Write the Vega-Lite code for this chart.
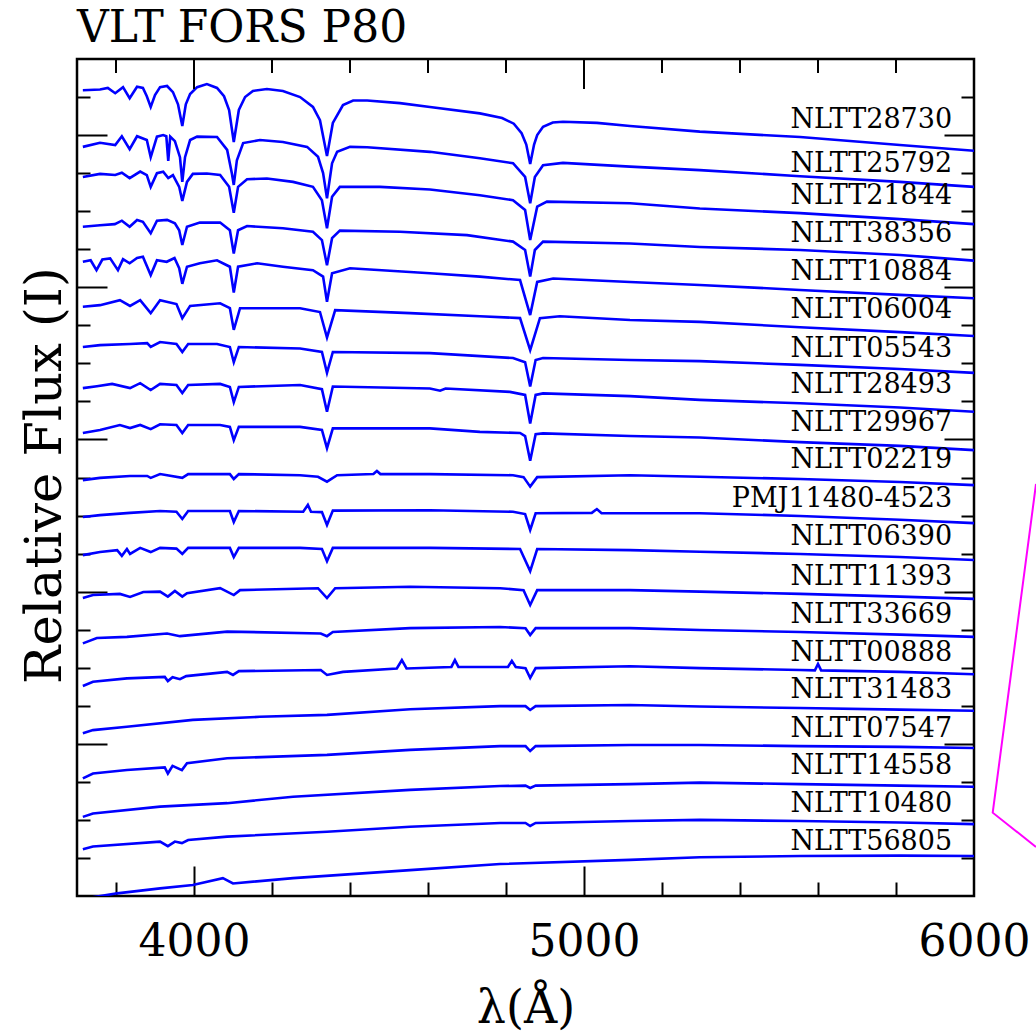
{
  "$schema": "https://vega.github.io/schema/vega-lite/v6.json",
  "width": 897,
  "height": 837,
  "autosize": {"type": "none"},
  "padding": {"left": 77, "top": 59, "right": 62, "bottom": 139},
  "background": "white",
  "title": {"text": "VLT FORS P80", "anchor": "start", "frame": "group", "font": "DejaVu Serif", "fontSize": 44, "fontWeight": "normal", "color": "black", "baseline": "alphabetic", "offset": 6, "dy": 33},
  "config": {
    "view": {"stroke": "black", "strokeWidth": 2.5},
    "axis": {"grid": false, "domain": false, "labelFont": "DejaVu Serif", "titleFont": "DejaVu Serif", "tickColor": "black", "tickWidth": 2, "labelColor": "black", "titleColor": "black", "titleFontWeight": "normal"}
  },
  "resolve": {"axis": {"x": "independent", "y": "independent"}},
  "datasets": {
    "labels": [
      {"star": "NLTT28730", "labelFlux": 20.18},
      {"star": "NLTT25792", "labelFlux": 19.04},
      {"star": "NLTT21844", "labelFlux": 18.19},
      {"star": "NLTT38356", "labelFlux": 17.20},
      {"star": "NLTT10884", "labelFlux": 16.19},
      {"star": "NLTT06004", "labelFlux": 15.19},
      {"star": "NLTT05543", "labelFlux": 14.17},
      {"star": "NLTT28493", "labelFlux": 13.22},
      {"star": "NLTT29967", "labelFlux": 12.22},
      {"star": "NLTT02219", "labelFlux": 11.25},
      {"star": "PMJ11480-4523", "labelFlux": 10.23},
      {"star": "NLTT06390", "labelFlux": 9.22},
      {"star": "NLTT11393", "labelFlux": 8.17},
      {"star": "NLTT33669", "labelFlux": 7.17},
      {"star": "NLTT00888", "labelFlux": 6.18},
      {"star": "NLTT31483", "labelFlux": 5.20},
      {"star": "NLTT07547", "labelFlux": 4.19},
      {"star": "NLTT14558", "labelFlux": 3.21},
      {"star": "NLTT10480", "labelFlux": 2.22},
      {"star": "NLTT56805", "labelFlux": 1.21}
    ],
    "magenta": [
      {"seq": 1, "wl": 6159, "flux": 10.83},
      {"seq": 2, "wl": 6048, "flux": 2.19},
      {"seq": 3, "wl": 6159, "flux": 1.29}
    ],
    "topTicks": [
      {"wl": 3800, "kind": "minor"}, {"wl": 4000, "kind": "major"}, {"wl": 4200, "kind": "minor"}, {"wl": 4400, "kind": "minor"},
      {"wl": 4600, "kind": "minor"}, {"wl": 4800, "kind": "minor"}, {"wl": 5000, "kind": "major"}, {"wl": 5200, "kind": "minor"},
      {"wl": 5400, "kind": "minor"}, {"wl": 5600, "kind": "minor"}, {"wl": 5800, "kind": "minor"}
    ],
    "spectra": [
      {"star":"NLTT28730","wl":3715,"flux":21.18},{"star":"NLTT28730","wl":3759,"flux":21.20},{"star":"NLTT28730","wl":3779,"flux":21.24},{"star":"NLTT28730","wl":3798,"flux":21.10},{"star":"NLTT28730","wl":3818,"flux":21.26},{"star":"NLTT28730","wl":3835,"flux":20.97},{"star":"NLTT28730","wl":3854,"flux":21.27},{"star":"NLTT28730","wl":3869,"flux":21.24},{"star":"NLTT28730","wl":3879,"flux":21.02},{"star":"NLTT28730","wl":3889,"flux":20.74},{"star":"NLTT28730","wl":3900,"flux":21.05},{"star":"NLTT28730","wl":3913,"flux":21.26},{"star":"NLTT28730","wl":3931,"flux":21.29},{"star":"NLTT28730","wl":3946,"flux":21.13},{"star":"NLTT28730","wl":3959,"flux":20.81},{"star":"NLTT28730","wl":3970,"flux":20.24},{"star":"NLTT28730","wl":3979,"flux":20.81},{"star":"NLTT28730","wl":3990,"flux":21.08},{"star":"NLTT28730","wl":4008,"flux":21.26},{"star":"NLTT28730","wl":4033,"flux":21.34},{"star":"NLTT28730","wl":4059,"flux":21.24},{"star":"NLTT28730","wl":4077,"flux":21.02},{"star":"NLTT28730","wl":4090,"flux":20.66},{"star":"NLTT28730","wl":4102,"flux":19.82},{"star":"NLTT28730","wl":4115,"flux":20.66},{"star":"NLTT28730","wl":4131,"flux":21.00},{"star":"NLTT28730","wl":4151,"flux":21.16},{"star":"NLTT28730","wl":4187,"flux":21.21},{"star":"NLTT28730","wl":4228,"flux":21.16},{"star":"NLTT28730","wl":4272,"flux":21.00},{"star":"NLTT28730","wl":4305,"flux":20.74},{"star":"NLTT28730","wl":4323,"flux":20.39},{"star":"NLTT28730","wl":4341,"flux":19.45},{"star":"NLTT28730","wl":4356,"flux":20.32},{"star":"NLTT28730","wl":4382,"flux":20.79},{"star":"NLTT28730","wl":4408,"flux":20.91},{"star":"NLTT28730","wl":4444,"flux":20.91},{"star":"NLTT28730","wl":4528,"flux":20.84},{"star":"NLTT28730","wl":4605,"flux":20.74},{"star":"NLTT28730","wl":4733,"flux":20.57},{"star":"NLTT28730","wl":4790,"flux":20.45},{"star":"NLTT28730","wl":4820,"flux":20.30},{"star":"NLTT28730","wl":4840,"flux":20.05},{"star":"NLTT28730","wl":4852,"flux":19.75},{"star":"NLTT28730","wl":4862,"flux":19.24},{"star":"NLTT28730","wl":4872,"flux":19.75},{"star":"NLTT28730","wl":4880,"flux":20.00},{"star":"NLTT28730","wl":4895,"flux":20.22},{"star":"NLTT28730","wl":4920,"flux":20.33},{"star":"NLTT28730","wl":4946,"flux":20.35},{"star":"NLTT28730","wl":5033,"flux":20.32},{"star":"NLTT28730","wl":5118,"flux":20.24},{"star":"NLTT28730","wl":5297,"flux":20.09},{"star":"NLTT28730","wl":5554,"flux":19.95},{"star":"NLTT28730","wl":5810,"flux":19.74},{"star":"NLTT28730","wl":6000,"flux":19.59},

      {"star":"NLTT25792","wl":3715,"flux":19.69},{"star":"NLTT25792","wl":3759,"flux":19.80},{"star":"NLTT25792","wl":3798,"flux":19.74},{"star":"NLTT25792","wl":3815,"flux":19.97},{"star":"NLTT25792","wl":3835,"flux":19.63},{"star":"NLTT25792","wl":3854,"flux":19.97},{"star":"NLTT25792","wl":3879,"flux":19.87},{"star":"NLTT25792","wl":3889,"flux":19.42},{"star":"NLTT25792","wl":3905,"flux":19.96},{"star":"NLTT25792","wl":3921,"flux":20.00},{"star":"NLTT25792","wl":3929,"flux":19.97},{"star":"NLTT25792","wl":3934,"flux":19.32},{"star":"NLTT25792","wl":3939,"flux":19.96},{"star":"NLTT25792","wl":3951,"flux":19.84},{"star":"NLTT25792","wl":3964,"flux":19.42},{"star":"NLTT25792","wl":3970,"flux":18.77},{"star":"NLTT25792","wl":3977,"flux":19.42},{"star":"NLTT25792","wl":3990,"flux":19.87},{"star":"NLTT25792","wl":4008,"flux":19.96},{"star":"NLTT25792","wl":4059,"flux":19.95},{"star":"NLTT25792","wl":4085,"flux":19.61},{"star":"NLTT25792","wl":4097,"flux":19.00},{"star":"NLTT25792","wl":4102,"flux":18.69},{"star":"NLTT25792","wl":4110,"flux":19.34},{"star":"NLTT25792","wl":4126,"flux":19.79},{"star":"NLTT25792","wl":4169,"flux":19.87},{"star":"NLTT25792","wl":4228,"flux":19.82},{"star":"NLTT25792","wl":4290,"flux":19.69},{"star":"NLTT25792","wl":4318,"flux":19.43},{"star":"NLTT25792","wl":4331,"flux":19.00},{"star":"NLTT25792","wl":4341,"flux":18.34},{"star":"NLTT25792","wl":4354,"flux":19.26},{"star":"NLTT25792","wl":4367,"flux":19.56},{"star":"NLTT25792","wl":4400,"flux":19.69},{"star":"NLTT25792","wl":4444,"flux":19.68},{"star":"NLTT25792","wl":4605,"flux":19.56},{"star":"NLTT25792","wl":4733,"flux":19.39},{"star":"NLTT25792","wl":4818,"flux":19.26},{"star":"NLTT25792","wl":4849,"flux":18.90},{"star":"NLTT25792","wl":4862,"flux":18.21},{"star":"NLTT25792","wl":4874,"flux":18.90},{"star":"NLTT25792","wl":4895,"flux":19.21},{"star":"NLTT25792","wl":4946,"flux":19.27},{"star":"NLTT25792","wl":5118,"flux":19.17},{"star":"NLTT25792","wl":5297,"flux":19.08},{"star":"NLTT25792","wl":5554,"flux":18.92},{"star":"NLTT25792","wl":5810,"flux":18.77},{"star":"NLTT25792","wl":6000,"flux":18.64},

      {"star":"NLTT21844","wl":3715,"flux":18.90},{"star":"NLTT21844","wl":3759,"flux":18.98},{"star":"NLTT21844","wl":3798,"flux":18.95},{"star":"NLTT21844","wl":3815,"flux":19.01},{"star":"NLTT21844","wl":3835,"flux":18.87},{"star":"NLTT21844","wl":3862,"flux":19.04},{"star":"NLTT21844","wl":3879,"flux":18.95},{"star":"NLTT21844","wl":3889,"flux":18.64},{"star":"NLTT21844","wl":3905,"flux":19.00},{"star":"NLTT21844","wl":3921,"flux":19.04},{"star":"NLTT21844","wl":3934,"flux":18.87},{"star":"NLTT21844","wl":3946,"flux":18.95},{"star":"NLTT21844","wl":3962,"flux":18.64},{"star":"NLTT21844","wl":3970,"flux":18.27},{"star":"NLTT21844","wl":3982,"flux":18.77},{"star":"NLTT21844","wl":3997,"flux":18.98},{"star":"NLTT21844","wl":4033,"flux":18.99},{"star":"NLTT21844","wl":4067,"flux":18.95},{"star":"NLTT21844","wl":4090,"flux":18.64},{"star":"NLTT21844","wl":4102,"flux":17.96},{"star":"NLTT21844","wl":4113,"flux":18.64},{"star":"NLTT21844","wl":4136,"flux":18.84},{"star":"NLTT21844","wl":4187,"flux":18.86},{"star":"NLTT21844","wl":4254,"flux":18.77},{"star":"NLTT21844","wl":4305,"flux":18.64},{"star":"NLTT21844","wl":4328,"flux":18.29},{"star":"NLTT21844","wl":4341,"flux":17.55},{"star":"NLTT21844","wl":4354,"flux":18.38},{"star":"NLTT21844","wl":4374,"flux":18.64},{"star":"NLTT21844","wl":4477,"flux":18.64},{"star":"NLTT21844","wl":4605,"flux":18.57},{"star":"NLTT21844","wl":4733,"flux":18.42},{"star":"NLTT21844","wl":4818,"flux":18.29},{"star":"NLTT21844","wl":4849,"flux":18.03},{"star":"NLTT21844","wl":4862,"flux":17.24},{"star":"NLTT21844","wl":4880,"flux":18.12},{"star":"NLTT21844","wl":4905,"flux":18.25},{"star":"NLTT21844","wl":5118,"flux":18.21},{"star":"NLTT21844","wl":5297,"flux":18.07},{"star":"NLTT21844","wl":5554,"flux":17.95},{"star":"NLTT21844","wl":5810,"flux":17.79},{"star":"NLTT21844","wl":6000,"flux":17.66},

      {"star":"NLTT38356","wl":3715,"flux":17.59},{"star":"NLTT38356","wl":3759,"flux":17.63},{"star":"NLTT38356","wl":3797,"flux":17.66},{"star":"NLTT38356","wl":3815,"flux":17.75},{"star":"NLTT38356","wl":3835,"flux":17.59},{"star":"NLTT38356","wl":3854,"flux":17.77},{"star":"NLTT38356","wl":3869,"flux":17.72},{"star":"NLTT38356","wl":3889,"flux":17.42},{"star":"NLTT38356","wl":3905,"flux":17.75},{"star":"NLTT38356","wl":3931,"flux":17.77},{"star":"NLTT38356","wl":3951,"flux":17.68},{"star":"NLTT38356","wl":3962,"flux":17.50},{"star":"NLTT38356","wl":3970,"flux":17.11},{"star":"NLTT38356","wl":3982,"flux":17.59},{"star":"NLTT38356","wl":4015,"flux":17.70},{"star":"NLTT38356","wl":4067,"flux":17.70},{"star":"NLTT38356","wl":4092,"flux":17.50},{"star":"NLTT38356","wl":4102,"flux":16.89},{"star":"NLTT38356","wl":4113,"flux":17.50},{"star":"NLTT38356","wl":4136,"flux":17.61},{"star":"NLTT38356","wl":4228,"flux":17.55},{"star":"NLTT38356","wl":4305,"flux":17.46},{"star":"NLTT38356","wl":4328,"flux":17.24},{"star":"NLTT38356","wl":4341,"flux":16.58},{"star":"NLTT38356","wl":4354,"flux":17.29},{"star":"NLTT38356","wl":4374,"flux":17.49},{"star":"NLTT38356","wl":4528,"flux":17.46},{"star":"NLTT38356","wl":4700,"flux":17.37},{"star":"NLTT38356","wl":4818,"flux":17.20},{"star":"NLTT38356","wl":4849,"flux":16.98},{"star":"NLTT38356","wl":4862,"flux":16.28},{"star":"NLTT38356","wl":4874,"flux":16.98},{"star":"NLTT38356","wl":4895,"flux":17.20},{"star":"NLTT38356","wl":5118,"flux":17.15},{"star":"NLTT38356","wl":5297,"flux":17.06},{"star":"NLTT38356","wl":5554,"flux":16.98},{"star":"NLTT38356","wl":5810,"flux":16.85},{"star":"NLTT38356","wl":6000,"flux":16.70},

      {"star":"NLTT10884","wl":3715,"flux":16.67},{"star":"NLTT10884","wl":3735,"flux":16.71},{"star":"NLTT10884","wl":3750,"flux":16.45},{"star":"NLTT10884","wl":3765,"flux":16.73},{"star":"NLTT10884","wl":3785,"flux":16.76},{"star":"NLTT10884","wl":3805,"flux":16.45},{"star":"NLTT10884","wl":3818,"flux":16.74},{"star":"NLTT10884","wl":3835,"flux":16.63},{"star":"NLTT10884","wl":3854,"flux":16.77},{"star":"NLTT10884","wl":3869,"flux":16.80},{"star":"NLTT10884","wl":3889,"flux":16.32},{"star":"NLTT10884","wl":3905,"flux":16.71},{"star":"NLTT10884","wl":3930,"flux":16.67},{"star":"NLTT10884","wl":3950,"flux":16.77},{"star":"NLTT10884","wl":3962,"flux":16.50},{"star":"NLTT10884","wl":3970,"flux":16.09},{"star":"NLTT10884","wl":3982,"flux":16.54},{"star":"NLTT10884","wl":4015,"flux":16.63},{"star":"NLTT10884","wl":4059,"flux":16.71},{"star":"NLTT10884","wl":4092,"flux":16.54},{"star":"NLTT10884","wl":4102,"flux":15.86},{"star":"NLTT10884","wl":4113,"flux":16.54},{"star":"NLTT10884","wl":4162,"flux":16.63},{"star":"NLTT10884","wl":4228,"flux":16.54},{"star":"NLTT10884","wl":4305,"flux":16.45},{"star":"NLTT10884","wl":4331,"flux":16.28},{"star":"NLTT10884","wl":4341,"flux":15.62},{"star":"NLTT10884","wl":4354,"flux":16.37},{"star":"NLTT10884","wl":4400,"flux":16.50},{"star":"NLTT10884","wl":4605,"flux":16.37},{"star":"NLTT10884","wl":4733,"flux":16.28},{"star":"NLTT10884","wl":4836,"flux":16.19},{"star":"NLTT10884","wl":4862,"flux":15.27},{"star":"NLTT10884","wl":4880,"flux":16.14},{"star":"NLTT10884","wl":4921,"flux":16.23},{"star":"NLTT10884","wl":5118,"flux":16.14},{"star":"NLTT10884","wl":5297,"flux":16.06},{"star":"NLTT10884","wl":5554,"flux":15.93},{"star":"NLTT10884","wl":5810,"flux":15.80},{"star":"NLTT10884","wl":6000,"flux":15.71},

      {"star":"NLTT06004","wl":3715,"flux":15.49},{"star":"NLTT06004","wl":3759,"flux":15.53},{"star":"NLTT06004","wl":3810,"flux":15.66},{"star":"NLTT06004","wl":3836,"flux":15.51},{"star":"NLTT06004","wl":3862,"flux":15.66},{"star":"NLTT06004","wl":3889,"flux":15.32},{"star":"NLTT06004","wl":3913,"flux":15.66},{"star":"NLTT06004","wl":3955,"flux":15.56},{"star":"NLTT06004","wl":3970,"flux":15.19},{"star":"NLTT06004","wl":3990,"flux":15.51},{"star":"NLTT06004","wl":4067,"flux":15.58},{"star":"NLTT06004","wl":4092,"flux":15.45},{"star":"NLTT06004","wl":4102,"flux":14.88},{"star":"NLTT06004","wl":4118,"flux":15.45},{"star":"NLTT06004","wl":4272,"flux":15.45},{"star":"NLTT06004","wl":4323,"flux":15.35},{"star":"NLTT06004","wl":4341,"flux":14.68},{"star":"NLTT06004","wl":4362,"flux":15.40},{"star":"NLTT06004","wl":4554,"flux":15.32},{"star":"NLTT06004","wl":4733,"flux":15.24},{"star":"NLTT06004","wl":4836,"flux":15.19},{"star":"NLTT06004","wl":4862,"flux":14.35},{"star":"NLTT06004","wl":4887,"flux":15.19},{"star":"NLTT06004","wl":4938,"flux":15.24},{"star":"NLTT06004","wl":5118,"flux":15.14},{"star":"NLTT06004","wl":5297,"flux":15.09},{"star":"NLTT06004","wl":5554,"flux":14.95},{"star":"NLTT06004","wl":5810,"flux":14.82},{"star":"NLTT06004","wl":6000,"flux":14.72},

      {"star":"NLTT05543","wl":3715,"flux":14.43},{"star":"NLTT05543","wl":3759,"flux":14.48},{"star":"NLTT05543","wl":3836,"flux":14.51},{"star":"NLTT05543","wl":3880,"flux":14.53},{"star":"NLTT05543","wl":3889,"flux":14.43},{"star":"NLTT05543","wl":3913,"flux":14.56},{"star":"NLTT05543","wl":3955,"flux":14.51},{"star":"NLTT05543","wl":3970,"flux":14.30},{"star":"NLTT05543","wl":3985,"flux":14.51},{"star":"NLTT05543","wl":4059,"flux":14.51},{"star":"NLTT05543","wl":4092,"flux":14.43},{"star":"NLTT05543","wl":4102,"flux":14.03},{"star":"NLTT05543","wl":4115,"flux":14.43},{"star":"NLTT05543","wl":4272,"flux":14.39},{"star":"NLTT05543","wl":4328,"flux":14.30},{"star":"NLTT05543","wl":4341,"flux":13.75},{"star":"NLTT05543","wl":4356,"flux":14.30},{"star":"NLTT05543","wl":4605,"flux":14.27},{"star":"NLTT05543","wl":4818,"flux":14.14},{"star":"NLTT05543","wl":4849,"flux":14.03},{"star":"NLTT05543","wl":4862,"flux":13.39},{"star":"NLTT05543","wl":4876,"flux":14.09},{"star":"NLTT05543","wl":4895,"flux":14.14},{"star":"NLTT05543","wl":5118,"flux":14.09},{"star":"NLTT05543","wl":5297,"flux":14.06},{"star":"NLTT05543","wl":5554,"flux":13.96},{"star":"NLTT05543","wl":5810,"flux":13.85},{"star":"NLTT05543","wl":6000,"flux":13.75},

      {"star":"NLTT28493","wl":3715,"flux":13.35},{"star":"NLTT28493","wl":3751,"flux":13.40},{"star":"NLTT28493","wl":3790,"flux":13.46},{"star":"NLTT28493","wl":3836,"flux":13.35},{"star":"NLTT28493","wl":3862,"flux":13.48},{"star":"NLTT28493","wl":3889,"flux":13.30},{"star":"NLTT28493","wl":3913,"flux":13.46},{"star":"NLTT28493","wl":3955,"flux":13.43},{"star":"NLTT28493","wl":3970,"flux":13.22},{"star":"NLTT28493","wl":3985,"flux":13.43},{"star":"NLTT28493","wl":4067,"flux":13.46},{"star":"NLTT28493","wl":4092,"flux":13.38},{"star":"NLTT28493","wl":4102,"flux":12.98},{"star":"NLTT28493","wl":4115,"flux":13.38},{"star":"NLTT28493","wl":4272,"flux":13.43},{"star":"NLTT28493","wl":4328,"flux":13.32},{"star":"NLTT28493","wl":4341,"flux":12.73},{"star":"NLTT28493","wl":4356,"flux":13.39},{"star":"NLTT28493","wl":4605,"flux":13.34},{"star":"NLTT28493","wl":4631,"flux":13.28},{"star":"NLTT28493","wl":4645,"flux":13.34},{"star":"NLTT28493","wl":4810,"flux":13.25},{"star":"NLTT28493","wl":4849,"flux":13.17},{"star":"NLTT28493","wl":4862,"flux":12.42},{"star":"NLTT28493","wl":4876,"flux":13.17},{"star":"NLTT28493","wl":4895,"flux":13.21},{"star":"NLTT28493","wl":5118,"flux":13.14},{"star":"NLTT28493","wl":5297,"flux":13.04},{"star":"NLTT28493","wl":5554,"flux":12.95},{"star":"NLTT28493","wl":5810,"flux":12.84},{"star":"NLTT28493","wl":6000,"flux":12.73},

      {"star":"NLTT29967","wl":3715,"flux":12.17},{"star":"NLTT29967","wl":3759,"flux":12.25},{"star":"NLTT29967","wl":3810,"flux":12.38},{"star":"NLTT29967","wl":3836,"flux":12.30},{"star":"NLTT29967","wl":3862,"flux":12.38},{"star":"NLTT29967","wl":3889,"flux":12.27},{"star":"NLTT29967","wl":3913,"flux":12.40},{"star":"NLTT29967","wl":3955,"flux":12.38},{"star":"NLTT29967","wl":3970,"flux":12.17},{"star":"NLTT29967","wl":3985,"flux":12.38},{"star":"NLTT29967","wl":4067,"flux":12.38},{"star":"NLTT29967","wl":4092,"flux":12.33},{"star":"NLTT29967","wl":4102,"flux":11.98},{"star":"NLTT29967","wl":4115,"flux":12.33},{"star":"NLTT29967","wl":4272,"flux":12.33},{"star":"NLTT29967","wl":4328,"flux":12.25},{"star":"NLTT29967","wl":4341,"flux":11.77},{"star":"NLTT29967","wl":4356,"flux":12.29},{"star":"NLTT29967","wl":4605,"flux":12.29},{"star":"NLTT29967","wl":4733,"flux":12.20},{"star":"NLTT29967","wl":4836,"flux":12.17},{"star":"NLTT29967","wl":4849,"flux":12.09},{"star":"NLTT29967","wl":4862,"flux":11.44},{"star":"NLTT29967","wl":4876,"flux":12.14},{"star":"NLTT29967","wl":4895,"flux":12.16},{"star":"NLTT29967","wl":5118,"flux":12.09},{"star":"NLTT29967","wl":5297,"flux":12.05},{"star":"NLTT29967","wl":5554,"flux":11.93},{"star":"NLTT29967","wl":5810,"flux":11.83},{"star":"NLTT29967","wl":6000,"flux":11.72},

      {"star":"NLTT02219","wl":3715,"flux":10.93},{"star":"NLTT02219","wl":3759,"flux":10.99},{"star":"NLTT02219","wl":3836,"flux":11.04},{"star":"NLTT02219","wl":3880,"flux":11.04},{"star":"NLTT02219","wl":3889,"flux":10.99},{"star":"NLTT02219","wl":3913,"flux":11.09},{"star":"NLTT02219","wl":3970,"flux":10.99},{"star":"NLTT02219","wl":3985,"flux":11.09},{"star":"NLTT02219","wl":4092,"flux":11.09},{"star":"NLTT02219","wl":4102,"flux":10.96},{"star":"NLTT02219","wl":4115,"flux":11.09},{"star":"NLTT02219","wl":4272,"flux":11.06},{"star":"NLTT02219","wl":4318,"flux":11.02},{"star":"NLTT02219","wl":4341,"flux":10.89},{"star":"NLTT02219","wl":4367,"flux":11.06},{"star":"NLTT02219","wl":4460,"flux":11.09},{"star":"NLTT02219","wl":4469,"flux":11.17},{"star":"NLTT02219","wl":4478,"flux":11.09},{"star":"NLTT02219","wl":4605,"flux":11.09},{"star":"NLTT02219","wl":4818,"flux":11.06},{"star":"NLTT02219","wl":4845,"flux":11.01},{"star":"NLTT02219","wl":4862,"flux":10.76},{"star":"NLTT02219","wl":4880,"flux":11.01},{"star":"NLTT02219","wl":5118,"flux":11.06},{"star":"NLTT02219","wl":5297,"flux":11.02},{"star":"NLTT02219","wl":5554,"flux":10.96},{"star":"NLTT02219","wl":5810,"flux":10.88},{"star":"NLTT02219","wl":6000,"flux":10.80},

      {"star":"PMJ11480-4523","wl":3715,"flux":9.96},{"star":"PMJ11480-4523","wl":3759,"flux":10.01},{"star":"PMJ11480-4523","wl":3836,"flux":10.07},{"star":"PMJ11480-4523","wl":3913,"flux":10.12},{"star":"PMJ11480-4523","wl":3955,"flux":10.10},{"star":"PMJ11480-4523","wl":3970,"flux":9.91},{"star":"PMJ11480-4523","wl":3985,"flux":10.12},{"star":"PMJ11480-4523","wl":4092,"flux":10.12},{"star":"PMJ11480-4523","wl":4102,"flux":9.83},{"star":"PMJ11480-4523","wl":4115,"flux":10.12},{"star":"PMJ11480-4523","wl":4280,"flux":10.10},{"star":"PMJ11480-4523","wl":4292,"flux":10.28},{"star":"PMJ11480-4523","wl":4300,"flux":10.10},{"star":"PMJ11480-4523","wl":4328,"flux":10.09},{"star":"PMJ11480-4523","wl":4341,"flux":9.75},{"star":"PMJ11480-4523","wl":4356,"flux":10.13},{"star":"PMJ11480-4523","wl":4605,"flux":10.14},{"star":"PMJ11480-4523","wl":4818,"flux":10.10},{"star":"PMJ11480-4523","wl":4849,"flux":10.04},{"star":"PMJ11480-4523","wl":4862,"flux":9.62},{"star":"PMJ11480-4523","wl":4876,"flux":10.06},{"star":"PMJ11480-4523","wl":5020,"flux":10.07},{"star":"PMJ11480-4523","wl":5033,"flux":10.17},{"star":"PMJ11480-4523","wl":5045,"flux":10.06},{"star":"PMJ11480-4523","wl":5297,"flux":10.06},{"star":"PMJ11480-4523","wl":5554,"flux":9.99},{"star":"PMJ11480-4523","wl":5810,"flux":9.89},{"star":"PMJ11480-4523","wl":6000,"flux":9.80},

      {"star":"NLTT06390","wl":3715,"flux":8.96},{"star":"NLTT06390","wl":3759,"flux":9.04},{"star":"NLTT06390","wl":3803,"flux":9.09},{"star":"NLTT06390","wl":3815,"flux":8.94},{"star":"NLTT06390","wl":3828,"flux":9.12},{"star":"NLTT06390","wl":3836,"flux":8.99},{"star":"NLTT06390","wl":3862,"flux":9.15},{"star":"NLTT06390","wl":3889,"flux":9.04},{"star":"NLTT06390","wl":3913,"flux":9.15},{"star":"NLTT06390","wl":3955,"flux":9.13},{"star":"NLTT06390","wl":3970,"flux":8.99},{"star":"NLTT06390","wl":3985,"flux":9.15},{"star":"NLTT06390","wl":4092,"flux":9.15},{"star":"NLTT06390","wl":4102,"flux":8.91},{"star":"NLTT06390","wl":4115,"flux":9.15},{"star":"NLTT06390","wl":4272,"flux":9.15},{"star":"NLTT06390","wl":4328,"flux":9.12},{"star":"NLTT06390","wl":4341,"flux":8.80},{"star":"NLTT06390","wl":4356,"flux":9.15},{"star":"NLTT06390","wl":4605,"flux":9.15},{"star":"NLTT06390","wl":4836,"flux":9.12},{"star":"NLTT06390","wl":4862,"flux":8.54},{"star":"NLTT06390","wl":4880,"flux":9.12},{"star":"NLTT06390","wl":5118,"flux":9.09},{"star":"NLTT06390","wl":5297,"flux":9.05},{"star":"NLTT06390","wl":5554,"flux":8.99},{"star":"NLTT06390","wl":5810,"flux":8.91},{"star":"NLTT06390","wl":6000,"flux":8.83},

      {"star":"NLTT11393","wl":3715,"flux":7.83},{"star":"NLTT11393","wl":3741,"flux":7.91},{"star":"NLTT11393","wl":3810,"flux":7.94},{"star":"NLTT11393","wl":3836,"flux":7.86},{"star":"NLTT11393","wl":3870,"flux":7.99},{"star":"NLTT11393","wl":3913,"flux":8.00},{"star":"NLTT11393","wl":3933,"flux":7.87},{"star":"NLTT11393","wl":3951,"flux":8.02},{"star":"NLTT11393","wl":3970,"flux":7.87},{"star":"NLTT11393","wl":3982,"flux":7.96},{"star":"NLTT11393","wl":4067,"flux":8.09},{"star":"NLTT11393","wl":4102,"flux":7.91},{"star":"NLTT11393","wl":4118,"flux":8.04},{"star":"NLTT11393","wl":4318,"flux":8.09},{"star":"NLTT11393","wl":4341,"flux":7.83},{"star":"NLTT11393","wl":4362,"flux":8.09},{"star":"NLTT11393","wl":4554,"flux":8.13},{"star":"NLTT11393","wl":4785,"flux":8.09},{"star":"NLTT11393","wl":4845,"flux":8.04},{"star":"NLTT11393","wl":4862,"flux":7.65},{"star":"NLTT11393","wl":4880,"flux":8.04},{"star":"NLTT11393","wl":5118,"flux":8.04},{"star":"NLTT11393","wl":5297,"flux":8.00},{"star":"NLTT11393","wl":5554,"flux":7.94},{"star":"NLTT11393","wl":5810,"flux":7.87},{"star":"NLTT11393","wl":6000,"flux":7.81},

      {"star":"NLTT33669","wl":3715,"flux":6.64},{"star":"NLTT33669","wl":3751,"flux":6.78},{"star":"NLTT33669","wl":3828,"flux":6.81},{"star":"NLTT33669","wl":3931,"flux":6.90},{"star":"NLTT33669","wl":3964,"flux":6.83},{"star":"NLTT33669","wl":4085,"flux":6.95},{"star":"NLTT33669","wl":4325,"flux":6.90},{"star":"NLTT33669","wl":4341,"flux":6.83},{"star":"NLTT33669","wl":4356,"flux":6.94},{"star":"NLTT33669","wl":4554,"flux":7.04},{"star":"NLTT33669","wl":4785,"flux":7.07},{"star":"NLTT33669","wl":4850,"flux":7.04},{"star":"NLTT33669","wl":4862,"flux":6.86},{"star":"NLTT33669","wl":4876,"flux":7.04},{"star":"NLTT33669","wl":5118,"flux":7.04},{"star":"NLTT33669","wl":5297,"flux":6.99},{"star":"NLTT33669","wl":5554,"flux":6.94},{"star":"NLTT33669","wl":5810,"flux":6.87},{"star":"NLTT33669","wl":6000,"flux":6.81},

      {"star":"NLTT00888","wl":3715,"flux":5.52},{"star":"NLTT00888","wl":3741,"flux":5.63},{"star":"NLTT00888","wl":3828,"flux":5.72},{"star":"NLTT00888","wl":3925,"flux":5.76},{"star":"NLTT00888","wl":3933,"flux":5.65},{"star":"NLTT00888","wl":3945,"flux":5.75},{"star":"NLTT00888","wl":3964,"flux":5.70},{"star":"NLTT00888","wl":3980,"flux":5.78},{"star":"NLTT00888","wl":4085,"flux":5.89},{"star":"NLTT00888","wl":4100,"flux":5.81},{"star":"NLTT00888","wl":4115,"flux":5.91},{"star":"NLTT00888","wl":4325,"flux":5.94},{"star":"NLTT00888","wl":4341,"flux":5.81},{"star":"NLTT00888","wl":4382,"flux":5.89},{"star":"NLTT00888","wl":4520,"flux":5.98},{"star":"NLTT00888","wl":4533,"flux":6.20},{"star":"NLTT00888","wl":4545,"flux":5.98},{"star":"NLTT00888","wl":4660,"flux":6.02},{"star":"NLTT00888","wl":4669,"flux":6.20},{"star":"NLTT00888","wl":4678,"flux":6.02},{"star":"NLTT00888","wl":4805,"flux":6.02},{"star":"NLTT00888","wl":4815,"flux":6.18},{"star":"NLTT00888","wl":4825,"flux":6.02},{"star":"NLTT00888","wl":4850,"flux":5.99},{"star":"NLTT00888","wl":4862,"flux":5.73},{"star":"NLTT00888","wl":4876,"flux":5.99},{"star":"NLTT00888","wl":5118,"flux":6.04},{"star":"NLTT00888","wl":5297,"flux":5.99},{"star":"NLTT00888","wl":5554,"flux":5.94},{"star":"NLTT00888","wl":5592,"flux":5.93},{"star":"NLTT00888","wl":5600,"flux":6.10},{"star":"NLTT00888","wl":5608,"flux":5.93},{"star":"NLTT00888","wl":5810,"flux":5.89},{"star":"NLTT00888","wl":6000,"flux":5.83},

      {"star":"NLTT31483","wl":3715,"flux":4.28},{"star":"NLTT31483","wl":3741,"flux":4.36},{"star":"NLTT31483","wl":3828,"flux":4.45},{"star":"NLTT31483","wl":3997,"flux":4.63},{"star":"NLTT31483","wl":4169,"flux":4.71},{"star":"NLTT31483","wl":4341,"flux":4.76},{"star":"NLTT31483","wl":4554,"flux":4.91},{"star":"NLTT31483","wl":4785,"flux":4.99},{"star":"NLTT31483","wl":4850,"flux":4.99},{"star":"NLTT31483","wl":4862,"flux":4.89},{"star":"NLTT31483","wl":4876,"flux":4.99},{"star":"NLTT31483","wl":5118,"flux":5.02},{"star":"NLTT31483","wl":5297,"flux":4.98},{"star":"NLTT31483","wl":5554,"flux":4.94},{"star":"NLTT31483","wl":5810,"flux":4.90},{"star":"NLTT31483","wl":6000,"flux":4.87},

      {"star":"NLTT07547","wl":3715,"flux":3.09},{"star":"NLTT07547","wl":3741,"flux":3.22},{"star":"NLTT07547","wl":3828,"flux":3.31},{"star":"NLTT07547","wl":3925,"flux":3.38},{"star":"NLTT07547","wl":3933,"flux":3.22},{"star":"NLTT07547","wl":3945,"flux":3.42},{"star":"NLTT07547","wl":3969,"flux":3.31},{"star":"NLTT07547","wl":3982,"flux":3.49},{"star":"NLTT07547","wl":4085,"flux":3.62},{"star":"NLTT07547","wl":4341,"flux":3.71},{"star":"NLTT07547","wl":4554,"flux":3.84},{"star":"NLTT07547","wl":4785,"flux":3.94},{"star":"NLTT07547","wl":4850,"flux":3.94},{"star":"NLTT07547","wl":4862,"flux":3.81},{"star":"NLTT07547","wl":4876,"flux":3.94},{"star":"NLTT07547","wl":5118,"flux":3.97},{"star":"NLTT07547","wl":5297,"flux":3.97},{"star":"NLTT07547","wl":5554,"flux":3.94},{"star":"NLTT07547","wl":5810,"flux":3.92},{"star":"NLTT07547","wl":6000,"flux":3.89},

      {"star":"NLTT14558","wl":3715,"flux":2.08},{"star":"NLTT14558","wl":3741,"flux":2.17},{"star":"NLTT14558","wl":3913,"flux":2.35},{"star":"NLTT14558","wl":4085,"flux":2.44},{"star":"NLTT14558","wl":4254,"flux":2.61},{"star":"NLTT14558","wl":4554,"flux":2.79},{"star":"NLTT14558","wl":4785,"flux":2.89},{"star":"NLTT14558","wl":4850,"flux":2.90},{"star":"NLTT14558","wl":4862,"flux":2.84},{"star":"NLTT14558","wl":4876,"flux":2.90},{"star":"NLTT14558","wl":5118,"flux":2.94},{"star":"NLTT14558","wl":5297,"flux":2.98},{"star":"NLTT14558","wl":5554,"flux":2.94},{"star":"NLTT14558","wl":5810,"flux":2.90},{"star":"NLTT14558","wl":6000,"flux":2.87},

      {"star":"NLTT10480","wl":3715,"flux":1.23},{"star":"NLTT10480","wl":3741,"flux":1.30},{"star":"NLTT10480","wl":3913,"flux":1.43},{"star":"NLTT10480","wl":3933,"flux":1.31},{"star":"NLTT10480","wl":3951,"flux":1.43},{"star":"NLTT10480","wl":3969,"flux":1.39},{"star":"NLTT10480","wl":3985,"flux":1.47},{"star":"NLTT10480","wl":4085,"flux":1.56},{"star":"NLTT10480","wl":4341,"flux":1.69},{"star":"NLTT10480","wl":4554,"flux":1.82},{"star":"NLTT10480","wl":4785,"flux":1.92},{"star":"NLTT10480","wl":4850,"flux":1.92},{"star":"NLTT10480","wl":4862,"flux":1.84},{"star":"NLTT10480","wl":4876,"flux":1.92},{"star":"NLTT10480","wl":5118,"flux":1.97},{"star":"NLTT10480","wl":5297,"flux":2.00},{"star":"NLTT10480","wl":5554,"flux":1.97},{"star":"NLTT10480","wl":5810,"flux":1.93},{"star":"NLTT10480","wl":6000,"flux":1.89},

      {"star":"NLTT56805","wl":3730,"flux":-0.05},{"star":"NLTT56805","wl":3760,"flux":0.00},{"star":"NLTT56805","wl":3803,"flux":0.07},{"star":"NLTT56805","wl":3913,"flux":0.20},{"star":"NLTT56805","wl":3997,"flux":0.29},{"star":"NLTT56805","wl":4074,"flux":0.47},{"star":"NLTT56805","wl":4100,"flux":0.33},{"star":"NLTT56805","wl":4254,"flux":0.47},{"star":"NLTT56805","wl":4554,"flux":0.68},{"star":"NLTT56805","wl":4785,"flux":0.84},{"star":"NLTT56805","wl":5118,"flux":0.95},{"star":"NLTT56805","wl":5297,"flux":1.02},{"star":"NLTT56805","wl":5554,"flux":1.05},{"star":"NLTT56805","wl":5810,"flux":1.06},{"star":"NLTT56805","wl":6000,"flux":1.05}
    ]
  },
  "layer": [
    {
      "data": {"name": "spectra"},
      "mark": {"type": "line", "color": "#0000ff", "strokeWidth": 2.6, "clip": true},
      "encoding": {
        "x": {"field": "wl", "type": "quantitative", "scale": {"domain": [3700, 6000], "nice": false, "zero": false},
          "axis": {"orient": "bottom", "values": [4000, 5000, 6000], "format": "d", "ticks": false, "domain": false, "labelFontSize": 44, "labelPadding": 59, "labelBaseline": "alphabetic", "labelFlush": false, "labelOverlap": false, "title": "λ(Å)", "titleFontSize": 46, "titleBaseline": "alphabetic", "titleAlign": "center", "titleX": 448.5, "titleY": 126}},
        "y": {"field": "flux", "type": "quantitative", "scale": {"domain": [0, 22], "nice": false, "zero": false},
          "axis": {"orient": "left", "labels": false, "ticks": false, "domain": false, "title": "Relative Flux (I)", "titleFontSize": 51, "titleAngle": 270, "titleBaseline": "alphabetic", "titleAlign": "center", "titleX": -17, "titleY": 416}},
        "detail": {"field": "star"}
      }
    },
    {
      "data": {"name": "labels"},
      "mark": {"type": "text", "align": "right", "baseline": "alphabetic", "font": "DejaVu Serif", "fontSize": 27, "color": "black"},
      "encoding": {
        "x": {"datum": 5944, "type": "quantitative", "scale": {"domain": [3700, 6000], "nice": false, "zero": false}, "axis": null},
        "y": {"field": "labelFlux", "type": "quantitative", "scale": {"domain": [0, 22], "nice": false, "zero": false},
          "axis": {"orient": "left", "values": [1,2,3,5,6,7,9,10,11,13,14,15,17,18,19,21], "tickSize": -13, "labels": false, "domain": false, "title": null}},
        "text": {"field": "star"}
      }
    },
    {
      "data": {"name": "magenta"},
      "mark": {"type": "line", "color": "#ff00ff", "strokeWidth": 2, "clip": false},
      "encoding": {
        "x": {"field": "wl", "type": "quantitative", "scale": {"domain": [3700, 6000], "nice": false, "zero": false},
          "axis": {"orient": "bottom", "values": [3800, 4200, 4400, 4600, 4800, 5200, 5400, 5600, 5800], "tickSize": 14, "offset": -14, "labels": false, "domain": false, "title": null}},
        "y": {"field": "flux", "type": "quantitative", "scale": {"domain": [0, 22], "nice": false, "zero": false},
          "axis": {"orient": "left", "values": [4, 8, 12, 16, 20], "tickSize": -30, "labels": false, "domain": false, "title": null}},
        "order": {"field": "seq"}
      }
    },
    {
      "data": {"name": "magenta"},
      "mark": {"type": "point", "opacity": 0},
      "encoding": {
        "x": {"field": "wl", "type": "quantitative", "scale": {"domain": [3700, 6000], "nice": false, "zero": false},
          "axis": {"orient": "bottom", "values": [4000, 5000], "tickSize": 30, "offset": -30, "labels": false, "domain": false, "title": null}},
        "y": {"field": "flux", "type": "quantitative", "scale": {"domain": [0, 22], "nice": false, "zero": false},
          "axis": {"orient": "right", "values": [1,2,3,5,6,7,9,10,11,13,14,15,17,18,19,21], "tickSize": -13, "labels": false, "domain": false, "title": null}}
      }
    },
    {
      "data": {"name": "magenta"},
      "mark": {"type": "point", "opacity": 0},
      "encoding": {
        "x": {"field": "wl", "type": "quantitative", "scale": {"domain": [3700, 6000], "nice": false, "zero": false}, "axis": null},
        "y": {"field": "flux", "type": "quantitative", "scale": {"domain": [0, 22], "nice": false, "zero": false},
          "axis": {"orient": "right", "values": [4, 8, 12, 16, 20], "tickSize": -30, "labels": false, "domain": false, "title": null}}
      }
    },
    {
      "data": {"name": "topTicks"},
      "transform": [{"filter": "datum.kind == 'minor'"}],
      "mark": {"type": "tick", "orient": "vertical", "color": "black", "thickness": 2, "size": 14, "opacity": 1},
      "encoding": {
        "x": {"field": "wl", "type": "quantitative", "scale": {"domain": [3700, 6000], "nice": false, "zero": false}, "axis": null},
        "y": {"datum": 21.816, "type": "quantitative", "scale": {"domain": [0, 22], "nice": false, "zero": false}, "axis": null}
      }
    },
    {
      "data": {"name": "topTicks"},
      "transform": [{"filter": "datum.kind == 'major'"}],
      "mark": {"type": "tick", "orient": "vertical", "color": "black", "thickness": 2, "size": 30, "opacity": 1},
      "encoding": {
        "x": {"field": "wl", "type": "quantitative", "scale": {"domain": [3700, 6000], "nice": false, "zero": false}, "axis": null},
        "y": {"datum": 21.606, "type": "quantitative", "scale": {"domain": [0, 22], "nice": false, "zero": false}, "axis": null}
      }
    }
  ]
}
